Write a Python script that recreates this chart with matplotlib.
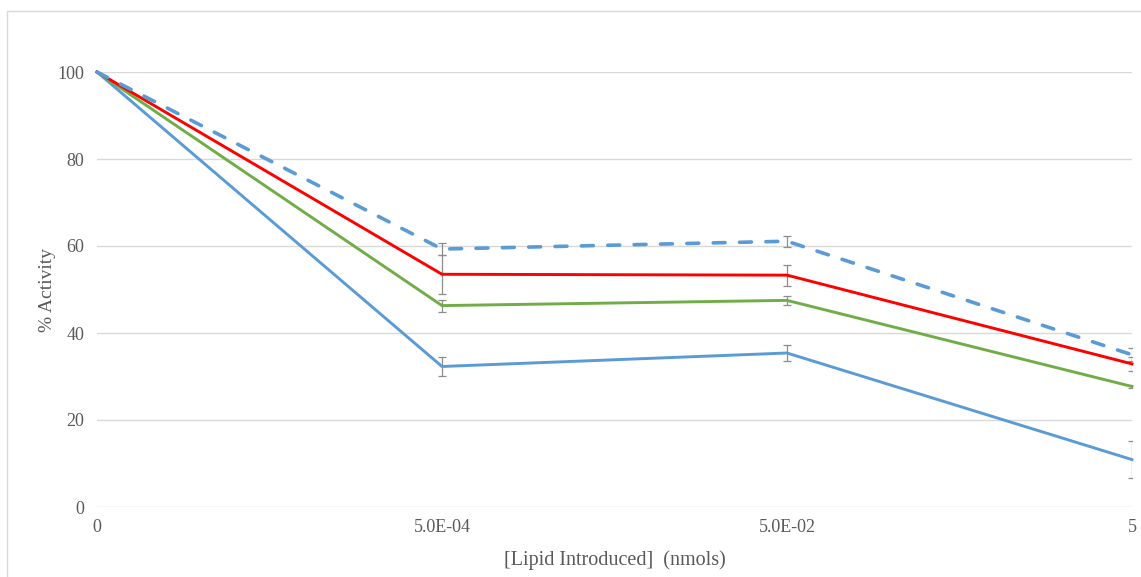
import matplotlib.pyplot as plt
import numpy as np
from matplotlib.patches import Rectangle

plt.rcParams['font.family'] = ['Liberation Serif', 'DejaVu Serif']

# lipid amounts (category axis) and % activity for each series
doses = ["0", "5.0E-04", "5.0E-02", "5"]
blue_solid = [100, 32.3, 35.4, 10.9]
blue_solid_err = [0, 2.1, 1.8, 4.3]
green = [100, 46.3, 47.5, 27.7]
green_err = [0, 1.4, 1.0, 0.4]
red = [100, 53.5, 53.3, 32.9]
red_err = [0, 4.5, 2.4, 1.6]
blue_dashed = [100, 59.3, 61.1, 35.0]
blue_dashed_err = [0, 1.3, 1.3, 1.5]

fig = plt.figure(figsize=(11.41, 5.77), dpi=100)
fig.patches.append(Rectangle((7/1141, -0.05), 1.2, 1 - 11/577 + 0.05,
                             transform=fig.transFigure, fill=False,
                             edgecolor='#d9d9d9', lw=1.0))
ax = fig.add_axes([97/1141, 1 - 507/577, (1132 - 97)/1141, (507 - 72)/577])

x = np.arange(len(doses))
series = [
    (blue_solid, blue_solid_err, '#5b9bd5', '-', 2.1),
    (green, green_err, '#70ad47', '-', 2.1),
    (red, red_err, '#ff0000', '-', 2.1),
    (blue_dashed, blue_dashed_err, '#5b9bd5', (0, (3.3, 4.0)), 2.6),
]
for i, (vals, err, col, ls, lw) in enumerate(series):
    ax.plot(x, vals, color=col, lw=lw, ls=ls, zorder=3 + i, clip_on=False,
            solid_joinstyle='miter', dash_capstyle='round')
    ax.errorbar(x[1:], vals[1:], yerr=err[1:], fmt='none', ecolor='#8c8c8c',
                elinewidth=0.9, capsize=3, capthick=0.9, zorder=2)

ax.set_xlim(0, 3)
ax.set_ylim(0, 100)
ax.set_yticks(np.arange(0, 101, 20))
ax.set_xticks(x)
ax.set_xticklabels(doses)
ax.grid(axis='y', color='#d9d9d9', lw=1.0)
ax.set_axisbelow(True)
for s in ax.spines.values():
    s.set_visible(False)
ax.tick_params(length=0, labelsize=13, colors='#595959')
ax.tick_params(axis='y', pad=9)
ax.tick_params(axis='x', pad=9)
ax.set_xlabel('[Lipid Introduced]  (nmols)', fontsize=14.5, color='#595959', labelpad=10)
ax.set_ylabel('% Activity', fontsize=14, color='#595959', labelpad=1)

fig.savefig('out.png', dpi=100)
